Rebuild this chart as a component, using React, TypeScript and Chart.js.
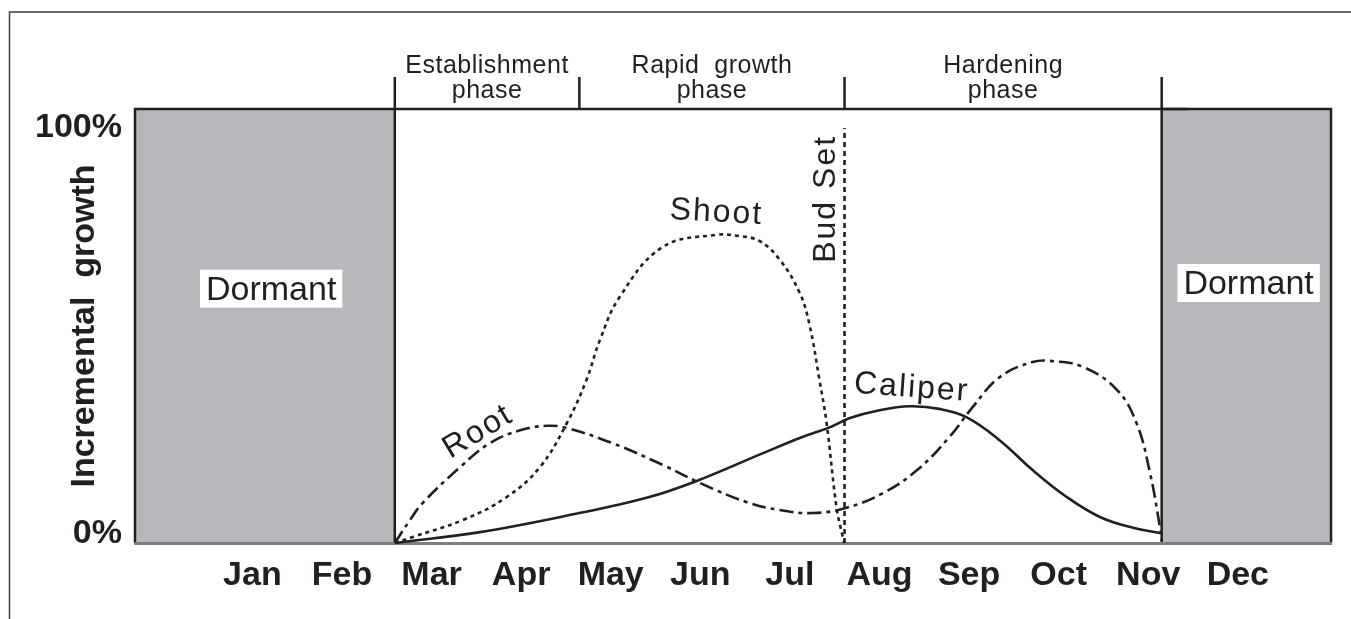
import React, { useEffect, useRef } from "react";
import { Chart, registerables } from "chart.js";

Chart.register(...registerables);

// ---------- data ----------
const MONTHS = ["Jan", "Feb", "Mar", "Apr", "May", "Jun", "Jul", "Aug", "Sep", "Oct", "Nov", "Dec"];
const X_MIN = -0.31;
const X_MAX = 13.04;

const Y_TICKS = [0, 100];
const Y_TICK_LABELS = ["0%", "100%"];

const ROOT_X = [2.59, 2.76, 2.9, 3.32, 3.65, 3.99, 4.29, 4.51, 5.02, 5.58, 6.0, 6.52, 6.89, 7.26, 7.63, 8.04, 8.42, 8.78, 9.04, 9.34, 9.71, 9.93, 10.27, 10.65, 10.87, 11.02, 11.13, 11.15];
const ROOT_Y = [0, 5.3, 9.2, 17.5, 23.0, 26.0, 27.0, 26.5, 23.0, 18.0, 13.8, 9.4, 7.6, 6.9, 8.1, 11.5, 16.8, 24.4, 31.3, 38.2, 41.7, 41.9, 40.6, 35.3, 27.6, 16.1, 3.7, 0.5];

const SHOOT_X = [2.59, 2.79, 3.35, 3.84, 4.21, 4.51, 4.73, 4.88, 5.1, 5.58, 6.18, 6.44, 6.66, 6.89, 7.11, 7.22, 7.33, 7.41, 7.52, 7.59, 7.61];
const SHOOT_Y = [0, 1.4, 5.3, 10.6, 17.5, 27.6, 37.6, 46.8, 56.7, 68.2, 71.0, 70.7, 69.6, 65.2, 57.6, 50.2, 37.6, 27.6, 8.3, 1.4, 0];

const CALIPER_X = [2.59, 3.54, 4.65, 5.4, 5.96, 6.7, 7.11, 7.45, 7.67, 8.0, 8.34, 8.67, 8.97, 9.34, 9.71, 10.09, 10.46, 10.83, 11.13];
const CALIPER_Y = [0, 2.5, 6.9, 10.4, 14.3, 20.7, 24.2, 26.7, 28.8, 30.6, 31.5, 30.9, 29.0, 23.7, 16.8, 10.6, 6.0, 3.5, 2.3];

const BUD_SET_X = 7.61;
const BUD_SET_TOP = 95.6;

const PHASE_BOUNDS = [2.59, 4.65, 7.61, 11.15];
const PHASE_LABELS = [["Establishment", "phase"], ["Rapid  growth", "phase"], ["Hardening", "phase"]];

const DORMANT_RANGES = [[X_MIN, 2.59], [11.15, X_MAX]];
const DORMANT_LABEL_X = [1.21, 12.12];
const DORMANT_LABEL_Y = [58.6, 59.9];

const CURVE_LABELS = ["Root", "Shoot", "Caliper", "Bud Set"];
const CURVE_LABEL_X = [3.52, 6.18, 8.36, 7.4];
const CURVE_LABEL_Y = [25.6, 76.1, 35.7, 79.3];
const CURVE_LABEL_ROT = [-31, 3, 4, -90];

// ---------- styles ----------
const INK = "#231f20";
const GRAY = "#b7b8bb";
const AXIS_GRAY = "#7d7e81";
const FONT = "'Liberation Sans', Arial, Helvetica, sans-serif";

const toPts = (xs: number[], ys: number[]) => xs.map((x, i) => ({ x, y: ys[i] }));

const overlay = {
  id: "overlay",
  beforeDatasetsDraw(chart: any) {
    const { ctx } = chart;
    const xs = chart.scales.x;
    const ys = chart.scales.y;
    const top = ys.getPixelForValue(100);
    const bottom = ys.getPixelForValue(0);
    ctx.save();
    DORMANT_RANGES.forEach(([a, b]) => {
      const l = xs.getPixelForValue(a);
      const r = xs.getPixelForValue(b);
      ctx.fillStyle = GRAY;
      ctx.fillRect(l, top, r - l, bottom - top);
      ctx.strokeStyle = INK;
      ctx.lineWidth = 2.5;
      ctx.beginPath();
      ctx.moveTo(l, bottom);
      ctx.lineTo(l, top);
      ctx.lineTo(r, top);
      ctx.lineTo(r, bottom);
      ctx.stroke();
    });
    const p0 = xs.getPixelForValue(PHASE_BOUNDS[0]);
    const p1 = xs.getPixelForValue(PHASE_BOUNDS[PHASE_BOUNDS.length - 1]);
    ctx.strokeStyle = INK;
    ctx.lineWidth = 2.5;
    ctx.beginPath();
    ctx.moveTo(p0, top);
    ctx.lineTo(p1 + 26, top);
    ctx.stroke();
    PHASE_BOUNDS.forEach((b) => {
      const px = xs.getPixelForValue(b);
      ctx.beginPath();
      ctx.moveTo(px, top);
      ctx.lineTo(px, top - 32);
      ctx.stroke();
    });
    ctx.strokeStyle = AXIS_GRAY;
    ctx.lineWidth = 3;
    ctx.beginPath();
    ctx.moveTo(chart.chartArea.left - 1, bottom + 0.5);
    ctx.lineTo(chart.chartArea.right + 1, bottom + 0.5);
    ctx.stroke();
    ctx.restore();
  },
  afterDatasetsDraw(chart: any) {
    const { ctx } = chart;
    const xs = chart.scales.x;
    const ys = chart.scales.y;
    const top = ys.getPixelForValue(100);
    ctx.save();
    ctx.fillStyle = INK;
    ctx.font = `25px ${FONT}`;
    (ctx as any).letterSpacing = "0.5px";
    ctx.textAlign = "center";
    ctx.textBaseline = "alphabetic";
    PHASE_LABELS.forEach((lines, i) => {
      const cx = (xs.getPixelForValue(PHASE_BOUNDS[i]) + xs.getPixelForValue(PHASE_BOUNDS[i + 1])) / 2;
      lines.forEach((t, j) => ctx.fillText(t, cx, top - 36 + j * 25));
    });
    ctx.font = `34px ${FONT}`;
    (ctx as any).letterSpacing = "0px";
    DORMANT_LABEL_X.forEach((lx, i) => {
      const cx = xs.getPixelForValue(lx);
      const cy = ys.getPixelForValue(DORMANT_LABEL_Y[i]);
      const w = ctx.measureText("Dormant").width + 12;
      ctx.fillStyle = "#ffffff";
      ctx.fillRect(cx - w / 2, cy - 19, w, 38);
      ctx.fillStyle = INK;
      ctx.fillText("Dormant", cx, cy + 11);
    });
    ctx.font = `32px ${FONT}`;
    (ctx as any).letterSpacing = "2px";
    ctx.textBaseline = "middle";
    CURVE_LABELS.forEach((t, i) => {
      const cx = xs.getPixelForValue(CURVE_LABEL_X[i]);
      const cy = ys.getPixelForValue(CURVE_LABEL_Y[i]);
      ctx.save();
      ctx.translate(cx, cy);
      ctx.rotate((CURVE_LABEL_ROT[i] * Math.PI) / 180);
      ctx.fillText(t, 0, 0);
      ctx.restore();
    });
    (ctx as any).letterSpacing = "0px";
    ctx.font = `bold 34px ${FONT}`;
    ctx.textAlign = "right";
    ctx.textBaseline = "alphabetic";
    Y_TICKS.forEach((v, i) => {
      const py = ys.getPixelForValue(v);
      const off = v === ys.max ? 28 : 0;
      ctx.fillText(Y_TICK_LABELS[i], chart.chartArea.left - 13, py + off);
    });
    ctx.restore();
  },
  afterDraw(chart: any) {
    const { ctx } = chart;
    ctx.save();
    ctx.strokeStyle = "#3c3c3c";
    ctx.lineWidth = 1.5;
    ctx.beginPath();
    ctx.moveTo(9.5, chart.height);
    ctx.lineTo(9.5, 12);
    ctx.lineTo(chart.width, 12);
    ctx.stroke();
    ctx.restore();
  },
};

export default function App() {
  const ref = useRef<HTMLCanvasElement>(null);
  useEffect(() => {
    if (!ref.current) return;
    const common = {
      borderColor: INK,
      borderWidth: 2.6,
      pointRadius: 0,
      fill: false,
      tension: 0.4,
      clip: 6,
    };
    const chart = new Chart(ref.current, {
      type: "line",
      data: {
        datasets: [
          { ...common, label: "Root", data: toPts(ROOT_X, ROOT_Y), borderDash: [14, 5, 4, 5] },
          { ...common, label: "Shoot", data: toPts(SHOOT_X, SHOOT_Y), borderDash: [4, 4] },
          { ...common, label: "Caliper", data: toPts(CALIPER_X, CALIPER_Y) },
          {
            ...common,
            label: "Bud Set",
            data: [
              { x: BUD_SET_X, y: 0 },
              { x: BUD_SET_X, y: BUD_SET_TOP },
            ],
            borderDash: [5, 4],
            tension: 0,
          },
        ],
      },
      options: {
        responsive: false,
        devicePixelRatio: 1,
        animation: false,
        events: [],
        layout: { padding: { left: 0, top: 109, right: 20, bottom: 0 } },
        plugins: { legend: { display: false }, tooltip: { enabled: false }, title: { display: false } },
        scales: {
          x: {
            type: "linear",
            min: X_MIN,
            max: X_MAX,
            grid: { display: false, drawTicks: false },
            border: { display: false },
            afterBuildTicks: (s: any) => {
              s.ticks = MONTHS.map((_, i) => ({ value: i + 1 }));
            },
            afterFit: (s: any) => {
              s.height = 76;
            },
            ticks: {
              autoSkip: false,
              maxRotation: 0,
              padding: 12,
              color: INK,
              font: { family: FONT, size: 34, weight: "bold" },
              callback: (v: any) => MONTHS[Math.round(Number(v)) - 1] ?? "",
            },
          },
          y: {
            type: "linear",
            min: 0,
            max: 100,
            grid: { display: false, drawTicks: false },
            border: { display: false },
            ticks: { display: false },
            afterFit: (s: any) => {
              s.width = 135;
            },
            title: {
              display: true,
              text: "Incremental  growth",
              color: INK,
              font: { family: FONT, size: 34, weight: "bold" },
              padding: { top: 64, bottom: 0 },
            },
          },
        },
      },
      plugins: [overlay],
    });
    return () => chart.destroy();
  }, []);
  return (
    <div style={{ position: "fixed", left: 0, top: 0, width: 1351, height: 619, background: "#ffffff" }}>
      <canvas ref={ref} width={1351} height={619} style={{ display: "block", width: 1351, height: 619 }} />
    </div>
  );
}
